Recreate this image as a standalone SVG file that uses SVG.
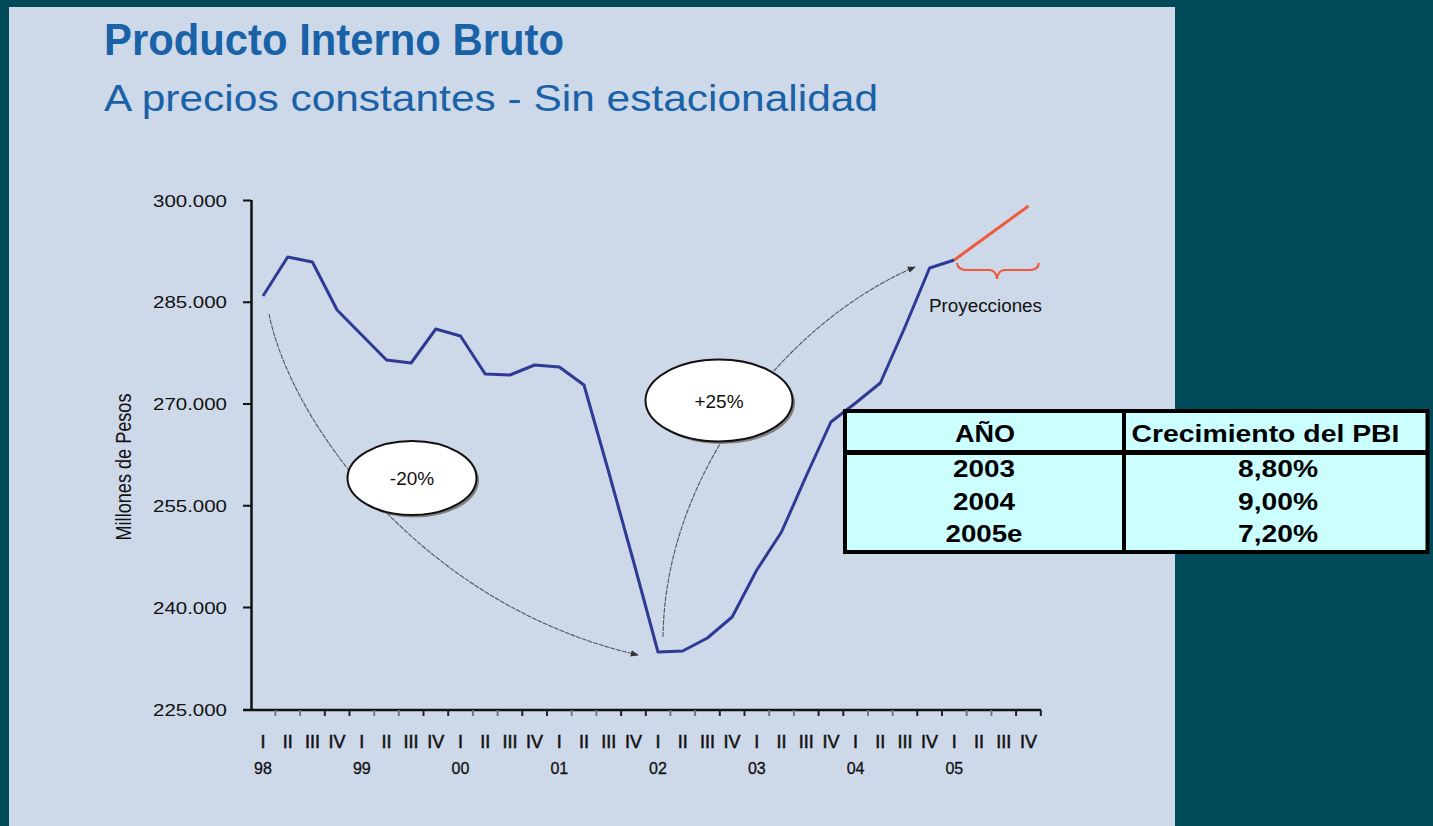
<svg xmlns="http://www.w3.org/2000/svg" width="1433" height="826" viewBox="0 0 1433 826">
<style>
.title{font-family:"Liberation Sans",Arial,sans-serif;fill:#1A62A8}
.ax{font-family:"Liberation Sans",Arial,sans-serif;fill:#111}
.ylab{font-size:17px;text-anchor:end}
.q{font-size:18px;text-anchor:middle;stroke:#111;stroke-width:0.5}
.yr{font-size:16px;text-anchor:middle;stroke:#111;stroke-width:0.3}
.tb{font-family:"Liberation Sans",Arial,sans-serif;font-weight:bold;font-size:24px;fill:#000;text-anchor:middle}
.lbl{font-family:"Liberation Sans",Arial,sans-serif;font-size:19px;fill:#111;text-anchor:middle}
.arc{fill:none;stroke:#555;stroke-width:1.1;stroke-dasharray:5 1}
</style>
<defs>
<marker id="ah" viewBox="0 0 10 10" refX="9" refY="5" markerWidth="8" markerHeight="8" markerUnits="userSpaceOnUse" orient="auto">
<path d="M0,1 L10,5 L0,9 z" fill="#333"/>
</marker>
</defs>
<rect x="0" y="0" width="1433" height="826" fill="#004A5A"/>
<rect x="9" y="7" width="1166" height="819" fill="#CDD8E9"/>
<g id="title">
<text class="title" x="104" y="55" font-size="44" font-weight="bold" textLength="460" lengthAdjust="spacingAndGlyphs">Producto Interno Bruto</text>
<text class="title" x="104" y="111" font-size="37" textLength="774" lengthAdjust="spacingAndGlyphs">A precios constantes - Sin estacionalidad</text>
</g>
<g id="axes">
<path d="M251.5,200 V710.5 M243,710 H1041" stroke="#111" stroke-width="2.5" fill="none"/>
<path d="M243,200.4 H251 M243,302.2 H251 M243,404 H251 M243,505.8 H251 M243,607.6 H251" stroke="#111" stroke-width="2" fill="none"/>
<path d="M324.8,710 v6 M349.5,710 v6 M423.5,710 v6 M448.2,710 v6 M522.3,710 v6 M547,710 v6 M621.1,710 v6 M645.8,710 v6 M719.8,710 v6 M744.5,710 v6 M818.6,710 v6 M843.3,710 v6 M917.3,710 v6 M942,710 v6 M1016.1,710 v6 M1040.8,710 v6" stroke="#222" stroke-width="2" fill="none"/>
<path d="M275.4,710 v6 M300.1,710 v6 M374.2,710 v6 M398.8,710 v6 M472.9,710 v6 M497.6,710 v6 M571.7,710 v6 M596.4,710 v6 M670.4,710 v6 M695.1,710 v6 M769.2,710 v6 M793.9,710 v6 M868,710 v6 M892.7,710 v6 M966.7,710 v6 M991.4,710 v6" stroke="#707788" stroke-width="2" fill="none"/>
<g class="ax ylab">
<text x="227" y="206.6" textLength="74" lengthAdjust="spacingAndGlyphs">300.000</text>
<text x="227" y="308.4" textLength="74" lengthAdjust="spacingAndGlyphs">285.000</text>
<text x="227" y="410.2" textLength="74" lengthAdjust="spacingAndGlyphs">270.000</text>
<text x="227" y="512" textLength="74" lengthAdjust="spacingAndGlyphs">255.000</text>
<text x="227" y="613.8" textLength="74" lengthAdjust="spacingAndGlyphs">240.000</text>
<text x="227" y="715.6" textLength="74" lengthAdjust="spacingAndGlyphs">225.000</text>
</g>
<text class="ax" transform="translate(131,467) rotate(-90)" font-size="22" text-anchor="middle" textLength="147" lengthAdjust="spacingAndGlyphs">Millones de Pesos</text>
<g class="ax q">
<text x="263" y="748">I</text><text x="287.7" y="748">II</text><text x="312.4" y="748">III</text><text x="337.1" y="748">IV</text>
<text x="361.8" y="748">I</text><text x="386.5" y="748">II</text><text x="411.1" y="748">III</text><text x="435.8" y="748">IV</text>
<text x="460.5" y="748">I</text><text x="485.2" y="748">II</text><text x="509.9" y="748">III</text><text x="534.6" y="748">IV</text>
<text x="559.3" y="748">I</text><text x="584" y="748">II</text><text x="608.7" y="748">III</text><text x="633.4" y="748">IV</text>
<text x="658" y="748">I</text><text x="682.7" y="748">II</text><text x="707.4" y="748">III</text><text x="732.1" y="748">IV</text>
<text x="756.8" y="748">I</text><text x="781.5" y="748">II</text><text x="806.2" y="748">III</text><text x="830.9" y="748">IV</text>
<text x="855.6" y="748">I</text><text x="880.3" y="748">II</text><text x="905" y="748">III</text><text x="929.6" y="748">IV</text>
<text x="954.3" y="748">I</text><text x="979" y="748">II</text><text x="1003.7" y="748">III</text><text x="1028.4" y="748">IV</text>
</g>
<g class="ax yr">
<text x="263" y="774">98</text><text x="361.8" y="774">99</text><text x="460.5" y="774">00</text><text x="559.3" y="774">01</text>
<text x="658" y="774">02</text><text x="756.8" y="774">03</text><text x="855.6" y="774">04</text><text x="954.3" y="774">05</text>
</g>
</g>
<g id="series">
<polyline fill="none" stroke="#2E3A94" stroke-width="3" stroke-linejoin="round" points="263,296 287.7,257 312.4,262 337.1,310 361.8,335 386.5,360 411.1,363 435.8,329 460.5,336 485.2,374 509.9,375 534.6,365 559.3,367 584,385 608.7,472 633.4,561 658,652 682.7,651 707.4,638 732.1,617 756.8,570 781.5,532 806.2,476 830.9,422 855.6,403 880.3,383 905,327 929.6,268 954.3,260"/>
<polyline fill="none" stroke="#F05A3C" stroke-width="3" points="954.3,260 1028.4,206"/>
</g>
<g id="proyecciones">
<path d="M957,263 Q958,270 966,270 L989,270 Q996,270 997,279 Q998,270 1005,270 L1030,270 Q1038,270 1039,263" fill="none" stroke="#F05A3C" stroke-width="2"/>
<text class="ax" x="929" y="311.7" font-size="18" textLength="113" lengthAdjust="spacingAndGlyphs">Proyecciones</text>
</g>
<g id="connectors">
<path class="arc" d="M269,314 C290,420 420,605 638,655" marker-end="url(#ah)"/>
<path class="arc" d="M663,637 C665,470 790,320 915,267" marker-end="url(#ah)"/>
</g>
<g id="label-minus20">
<ellipse cx="414.5" cy="480.5" rx="64.5" ry="37" fill="#808080"/>
<ellipse cx="412" cy="478" rx="64.5" ry="37" fill="#fff" stroke="#111" stroke-width="2"/>
<text class="lbl" x="412" y="484.5">-20%</text>
</g>
<g id="label-plus25">
<ellipse cx="721.5" cy="403" rx="73.5" ry="41" fill="#808080"/>
<ellipse cx="719" cy="400.5" rx="73.5" ry="41" fill="#fff" stroke="#111" stroke-width="2"/>
<text class="lbl" x="719" y="408.3">+25%</text>
</g>
<g id="table">
<rect x="845" y="411" width="582.5" height="141" fill="#CCFFFF" stroke="#000" stroke-width="4"/>
<path d="M845,452.5 H1427.5" stroke="#000" stroke-width="5"/>
<path d="M1124,411 V552" stroke="#000" stroke-width="4"/>
<text class="tb" x="985" y="442" textLength="60" lengthAdjust="spacingAndGlyphs">AÑO</text>
<text class="tb" x="1131.5" y="442" style="text-anchor:start" textLength="268" lengthAdjust="spacingAndGlyphs">Crecimiento del PBI</text>
<text class="tb" x="984" y="477" textLength="62" lengthAdjust="spacingAndGlyphs">2003</text>
<text class="tb" x="984" y="510" textLength="62" lengthAdjust="spacingAndGlyphs">2004</text>
<text class="tb" x="984" y="542" textLength="77" lengthAdjust="spacingAndGlyphs">2005e</text>
<text class="tb" x="1278" y="477" textLength="80" lengthAdjust="spacingAndGlyphs">8,80%</text>
<text class="tb" x="1278" y="510" textLength="80" lengthAdjust="spacingAndGlyphs">9,00%</text>
<text class="tb" x="1278" y="542" textLength="80" lengthAdjust="spacingAndGlyphs">7,20%</text>
</g>
</svg>
